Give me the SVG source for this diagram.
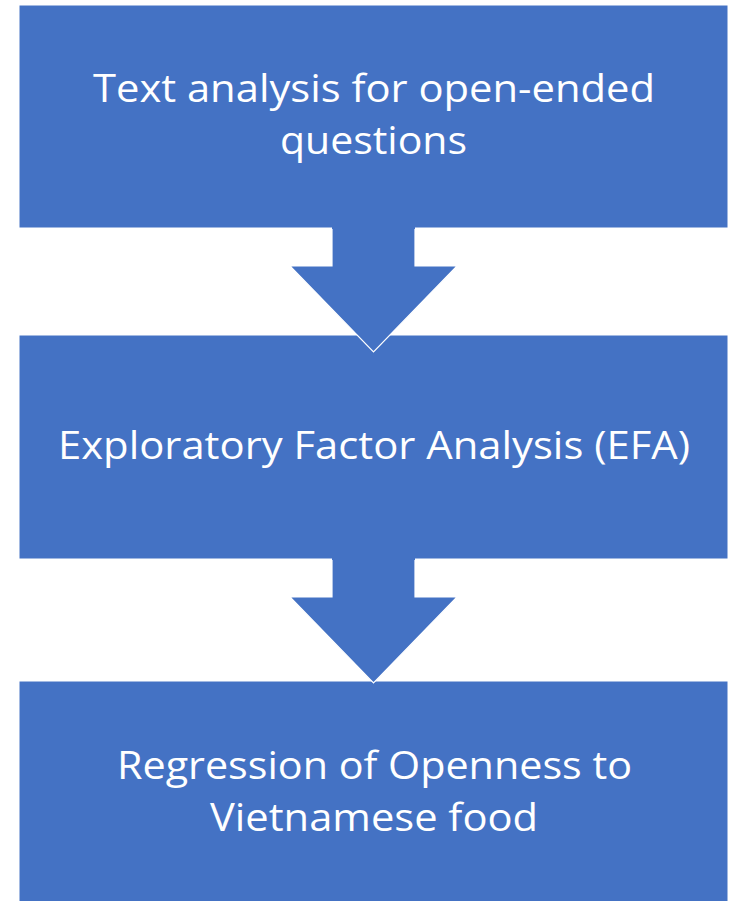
<svg xmlns="http://www.w3.org/2000/svg" width="729" height="901" viewBox="0 0 729 901">
  <style>
    .box { fill: #4472C4; stroke: #ffffff; stroke-width: 1; }
    .lbl { fill: #ffffff; font-family: "Open Sans", "Noto Sans", "Liberation Sans", sans-serif; font-size: 38.5px; text-anchor: middle; }
    .arr { fill: #4472C4; stroke: none; }
    .arr-edge { fill: none; stroke: #ffffff; stroke-width: 1.2; stroke-linejoin: miter; }
  </style>
  <rect width="729" height="901" fill="#ffffff"/>
  <g id="node-text-analysis">
    <rect class="box" x="19" y="5" width="709" height="223"/>
    <text class="lbl" x="374" y="102" textLength="562" lengthAdjust="spacingAndGlyphs">Text analysis for open-ended</text>
    <text class="lbl" x="373.5" y="154" textLength="187" lengthAdjust="spacingAndGlyphs">questions</text>
  </g>
  <g id="node-efa">
    <rect class="box" x="19" y="335" width="709" height="224"/>
    <text class="lbl" x="374" y="459" textLength="632" lengthAdjust="spacingAndGlyphs">Exploratory Factor Analysis (EFA)</text>
  </g>
  <g id="node-regression">
    <rect class="box" x="19" y="681" width="709" height="230"/>
    <text class="lbl" x="374.5" y="779" textLength="515" lengthAdjust="spacingAndGlyphs">Regression of Openness to</text>
    <text class="lbl" x="374" y="831" textLength="328" lengthAdjust="spacingAndGlyphs">Vietnamese food</text>
  </g>
  <g id="connectors">
    <polygon class="arr" points="332,227 415,227 415,266 457,266 373.5,352 290,266 332,266"/>
    <polyline class="arr-edge" points="415,229 415,266 457,266 373.5,352 290,266 332,266 332,229"/>
    <polygon class="arr" points="332,558 415,558 415,597 457,597 373.5,683 290,597 332,597"/>
    <polyline class="arr-edge" points="415,560 415,597 457,597 373.5,683 290,597 332,597 332,560"/>
  </g>
</svg>
